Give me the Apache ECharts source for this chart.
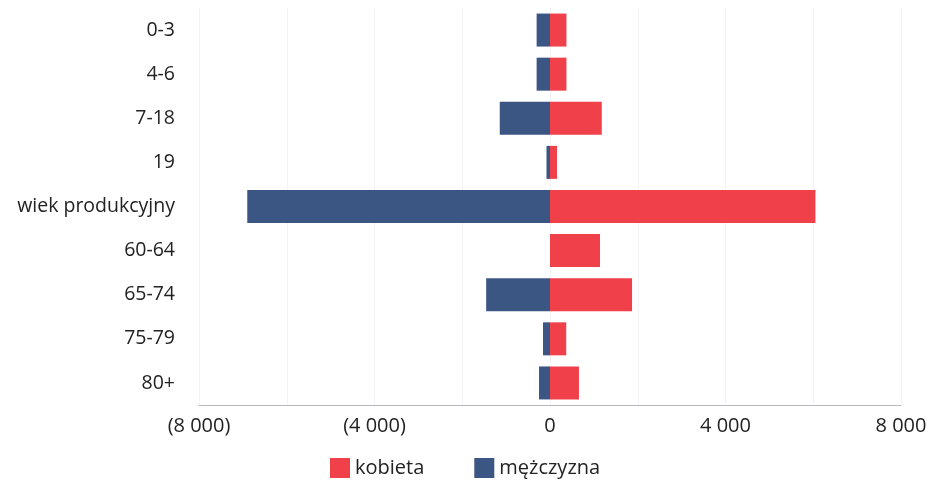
<!DOCTYPE html>
<html><head><meta charset="utf-8">
<script src="https://cdn.jsdelivr.net/npm/echarts@6/dist/echarts.min.js"></script>
<style>html,body{margin:0;padding:0;background:#fff}#c{width:933px;height:483px}</style>
</head><body><div id="c"></div>
<script>
const categories = ['0-3','4-6','7-18','19','wiek produkcyjny','60-64','65-74','75-79','80+'];
const kobieta = [375, 375, 1180, 160, 6050, 1140, 1870, 370, 660];
const mezczyzna = [-305, -305, -1145, -80, -6900, null, -1455, -160, -250];
const seriesNames = ['kobieta', 'mężczyzna'];
const xMin = -8000, xMax = 8000;

function fmt(v){
  if (v % 4000 !== 0) return '';
  const a = Math.abs(v).toString().replace(/\B(?=(\d{3})+(?!\d))/g,' ');
  return v < 0 ? '(' + a + ')' : a;
}
const chart = echarts.init(document.getElementById('c'), null, {renderer:'canvas'});
const font = '"Open Sans", sans-serif';
chart.setOption({
  animation:false,
  textStyle:{fontFamily:font},
  grid:{left:199, right:32, top:8, bottom:78, containLabel:false},
  legend:{
    top:458, left:330, itemGap:50, itemWidth:20, itemHeight:20,
    icon:'rect', padding:0,
    textStyle:{fontSize:20, color:'#222', fontFamily:font},
    data:seriesNames
  },
  xAxis:{
    type:'value', min:xMin, max:xMax, interval:2000,
    axisLine:{show:true, lineStyle:{color:'#b8b8c8', width:1}},
    axisTick:{show:false},
    splitLine:{show:true, lineStyle:{color:'#f4f4f4', width:1}},
    axisLabel:{formatter:fmt, fontSize:20, color:'#222', margin:11, fontFamily:font}
  },
  yAxis:{
    type:'category', data:categories, inverse:true,
    axisLine:{show:false}, axisTick:{show:false},
    axisLabel:{fontSize:19.5, color:'#222', margin:24, fontFamily:font}
  },
  series:[
    {name:seriesNames[0], type:'bar', stack:'t', data:kobieta, barWidth:33,
     itemStyle:{color:'#f0414a'}},
    {name:seriesNames[1], type:'bar', stack:'t', data:mezczyzna, barWidth:33,
     itemStyle:{color:'#3c5684'}}
  ]
});
</script></body></html>
